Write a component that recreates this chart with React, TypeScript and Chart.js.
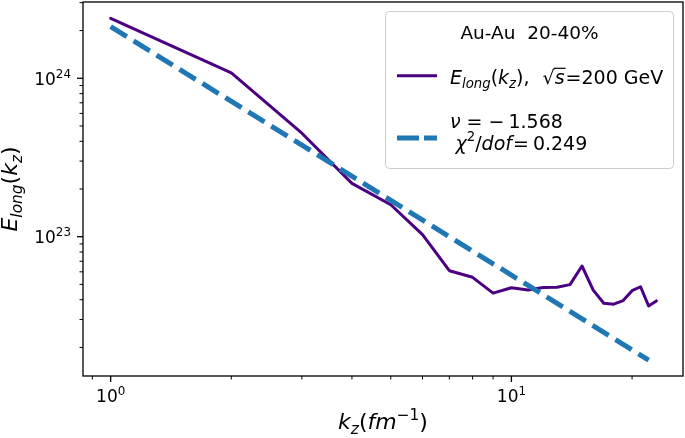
import React, { useEffect, useRef } from 'react';
import { Chart, registerables } from 'chart.js';

Chart.register(...registerables);

// ---- data ----
const kz = [1, 2, 3, 4, 5, 6, 7, 8, 9, 10, 11, 12, 13, 14, 15, 16, 17, 18, 19, 20, 21, 22, 23];
const eLong = [
  2.39e24, 1.08e24, 4.5e23, 2.17e23, 1.59e23, 1.03e23, 6.1e22, 5.54e22, 4.4e22, 4.76e22,
  4.61e22, 4.78e22, 4.8e22, 4.98e22, 6.53e22, 4.6e22, 3.8e22, 3.75e22, 3.95e22, 4.56e22,
  4.83e22, 3.65e22, 3.93e22,
];
// power-law fit line endpoints
const fitK = [1, 22];
const fitE = [2.12e24, 1.66e22];

// axis ranges
const xRange = [0.853, 26.8];
const yRange = [1.32e22, 3.03e24];

// ticks
const xMajorTicks = [1, 10];
const xMajorExponents = ['0', '1'];
const xMinorTicks = [0.9, 2, 3, 4, 5, 6, 7, 8, 9, 20];
const yMajorTicks = [1e23, 1e24];
const yMajorExponents = ['23', '24'];
const yMinorTicks = [
  2e22, 3e22, 4e22, 5e22, 6e22, 7e22, 8e22, 9e22,
  2e23, 3e23, 4e23, 5e23, 6e23, 7e23, 8e23, 9e23,
  2e24, 3e24,
];
const tickBase = '10';

// legend text
const legendTitle = 'Au-Au  20-40%';
const energyText = '=200 GeV';
const nuValue = '1.568';
const chiValue = '0.249';

const PURPLE = '#4b0082';
const BLUE = '#1f77b4';
const FAM = '"DejaVu Sans", "Liberation Sans", sans-serif';

type Seg = { t: string; it?: boolean; s?: 'sub' | 'sup'; bar?: boolean; gap?: number };

function fontOf(size: number, it?: boolean) {
  return `${it ? 'italic ' : ''}${size}px ${FAM}`;
}

function segSize(seg: Seg, size: number) {
  return seg.s ? size * 0.7 : size;
}

function segWidth(ctx: CanvasRenderingContext2D, seg: Seg, size: number) {
  ctx.font = fontOf(segSize(seg, size), seg.it);
  return ctx.measureText(seg.t).width + (seg.gap || 0);
}

function measureRich(ctx: CanvasRenderingContext2D, segs: Seg[], size: number) {
  let w = 0;
  for (const seg of segs) w += segWidth(ctx, seg, size);
  return w;
}

function drawRich(
  ctx: CanvasRenderingContext2D,
  segs: Seg[],
  x: number,
  y: number,
  size: number,
  align: 'left' | 'center' | 'right' = 'left'
) {
  const total = measureRich(ctx, segs, size);
  let cx = align === 'left' ? x : align === 'center' ? x - total / 2 : x - total;
  ctx.textAlign = 'left';
  ctx.textBaseline = 'alphabetic';
  for (const seg of segs) {
    const sz = segSize(seg, size);
    const dy = seg.s === 'sub' ? size * 0.24 : seg.s === 'sup' ? -size * 0.43 : 0;
    ctx.font = fontOf(sz, seg.it);
    ctx.fillText(seg.t, cx, y + dy);
    const w = ctx.measureText(seg.t).width;
    if (seg.bar) {
      ctx.save();
      ctx.lineWidth = 1.2;
      ctx.strokeStyle = ctx.fillStyle as string;
      ctx.beginPath();
      ctx.moveTo(cx - 1, y - size * 0.8);
      ctx.lineTo(cx + w + 1, y - size * 0.8);
      ctx.stroke();
      ctx.restore();
    }
    cx += w + (seg.gap || 0);
  }
}

const decor = {
  id: 'decor',
  afterDraw(chart: any) {
    const ctx: CanvasRenderingContext2D = chart.ctx;
    const { left, right, top, bottom } = chart.chartArea;
    const xs = chart.scales.x;
    const ys = chart.scales.y;
    ctx.save();
    ctx.fillStyle = '#000';
    ctx.strokeStyle = '#000';

    // frame
    ctx.lineWidth = 1.3;
    ctx.strokeRect(left, top, right - left, bottom - top);

    const inX = (v: number) => v >= xRange[0] && v <= xRange[1];
    const inY = (v: number) => v >= yRange[0] && v <= yRange[1];

    // x ticks
    ctx.lineWidth = 1.3;
    xMajorTicks.forEach((v, i) => {
      if (!inX(v)) return;
      const px = xs.getPixelForValue(v);
      ctx.beginPath();
      ctx.moveTo(px, bottom);
      ctx.lineTo(px, bottom + 6);
      ctx.stroke();
      drawRich(ctx, [{ t: tickBase }, { t: xMajorExponents[i], s: 'sup' }], px, 402, 17, 'center');
    });
    ctx.lineWidth = 1;
    xMinorTicks.forEach((v) => {
      if (!inX(v)) return;
      const px = xs.getPixelForValue(v);
      ctx.beginPath();
      ctx.moveTo(px, bottom);
      ctx.lineTo(px, bottom + 3.5);
      ctx.stroke();
    });

    // y ticks
    ctx.lineWidth = 1.3;
    yMajorTicks.forEach((v, i) => {
      if (!inY(v)) return;
      const py = ys.getPixelForValue(v);
      ctx.beginPath();
      ctx.moveTo(left, py);
      ctx.lineTo(left - 6, py);
      ctx.stroke();
      drawRich(ctx, [{ t: tickBase }, { t: yMajorExponents[i], s: 'sup' }], 71, py + 6.7, 17, 'right');
    });
    ctx.lineWidth = 1;
    yMinorTicks.forEach((v) => {
      if (!inY(v)) return;
      const py = ys.getPixelForValue(v);
      ctx.beginPath();
      ctx.moveTo(left, py);
      ctx.lineTo(left - 3.5, py);
      ctx.stroke();
    });

    // axis titles
    drawRich(
      ctx,
      [{ t: 'k', it: true }, { t: 'z', it: true, s: 'sub' }, { t: '(' }, { t: 'fm', it: true }, { t: '\u22121', s: 'sup' }, { t: ')' }],
      (left + right) / 2,
      429,
      22,
      'center'
    );
    ctx.save();
    ctx.translate(17, (top + bottom) / 2);
    ctx.rotate(-Math.PI / 2);
    drawRich(
      ctx,
      [{ t: 'E', it: true }, { t: 'long', it: true, s: 'sub' }, { t: '(' }, { t: 'k', it: true }, { t: 'z', it: true, s: 'sub' }, { t: ')' }],
      0,
      0,
      22,
      'center'
    );
    ctx.restore();

    // legend
    const bx = 385.5, by = 11.5, bw = 288, bh = 157;
    const LF = 19;
    ctx.beginPath();
    (ctx as any).roundRect(bx, by, bw, bh, 4);
    ctx.fillStyle = 'rgba(255,255,255,0.8)';
    ctx.fill();
    ctx.strokeStyle = '#cccccc';
    ctx.lineWidth = 1;
    ctx.stroke();

    ctx.fillStyle = '#000';
    drawRich(ctx, [{ t: legendTitle }], bx + bw / 2, 38.5, 18.5, 'center');

    // entry 1
    ctx.strokeStyle = PURPLE;
    ctx.lineWidth = 3;
    ctx.beginPath();
    ctx.moveTo(397, 75.7);
    ctx.lineTo(437, 75.7);
    ctx.stroke();
    drawRich(
      ctx,
      [
        { t: 'E', it: true }, { t: 'long', it: true, s: 'sub' }, { t: '(' }, { t: 'k', it: true },
        { t: 'z', it: true, s: 'sub' }, { t: '),', gap: 13 }, { t: '\u221a' }, { t: 's', it: true, bar: true, gap: 1 },
        { t: energyText },
      ],
      450,
      83.5,
      LF
    );

    // entry 2
    ctx.strokeStyle = BLUE;
    ctx.lineWidth = 5;
    ctx.setLineDash([22, 5]);
    ctx.beginPath();
    ctx.moveTo(397, 138);
    ctx.lineTo(437, 138);
    ctx.stroke();
    ctx.setLineDash([]);
    drawRich(
      ctx,
      [
        { t: '\u03bd', it: true, gap: 6 }, { t: '=', gap: 6 }, { t: '\u2212', gap: 4 }, { t: nuValue },
      ],
      450,
      127.5,
      LF
    );
    drawRich(
      ctx,
      [
        { t: '\u03c7', it: true }, { t: '2', s: 'sup' }, { t: '/' }, { t: 'dof', it: true, gap: 1 },
        { t: '=', gap: 4 }, { t: chiValue },
      ],
      455.5,
      149.5,
      LF
    );

    ctx.restore();
  },
};

export default function App() {
  const ref = useRef<HTMLCanvasElement>(null);
  useEffect(() => {
    const canvas = ref.current;
    if (!canvas) return;
    const chart = new Chart(canvas, {
      type: 'scatter',
      data: {
        datasets: [
          {
            data: kz.map((k, i) => ({ x: k, y: eLong[i] })),
            borderColor: PURPLE,
            backgroundColor: PURPLE,
            borderWidth: 3,
            showLine: true,
            pointRadius: 0,
            borderJoinStyle: 'round',
            borderCapStyle: 'round',
            order: 2,
          },
          {
            data: fitK.map((k, i) => ({ x: k, y: fitE[i] })),
            borderColor: BLUE,
            backgroundColor: BLUE,
            borderWidth: 5,
            showLine: true,
            pointRadius: 0,
            borderDash: [19, 8],
            order: 1,
          },
        ],
      } as any,
      options: {
        responsive: false,
        animation: false,
        devicePixelRatio: 1,
        layout: { padding: { left: 83, right: 2, top: 2, bottom: 62 } },
        scales: {
          x: { type: 'logarithmic', min: xRange[0], max: xRange[1], display: false },
          y: { type: 'logarithmic', min: yRange[0], max: yRange[1], display: false },
        },
        plugins: { legend: { display: false }, tooltip: { enabled: false } },
      } as any,
      plugins: [decor as any],
    });
    return () => chart.destroy();
  }, []);
  return (
    <div style={{ position: 'fixed', left: 0, top: 0, width: 685, height: 438, background: '#fff' }}>
      <canvas ref={ref} width={685} height={438} style={{ display: 'block', width: 685, height: 438 }} />
    </div>
  );
}
